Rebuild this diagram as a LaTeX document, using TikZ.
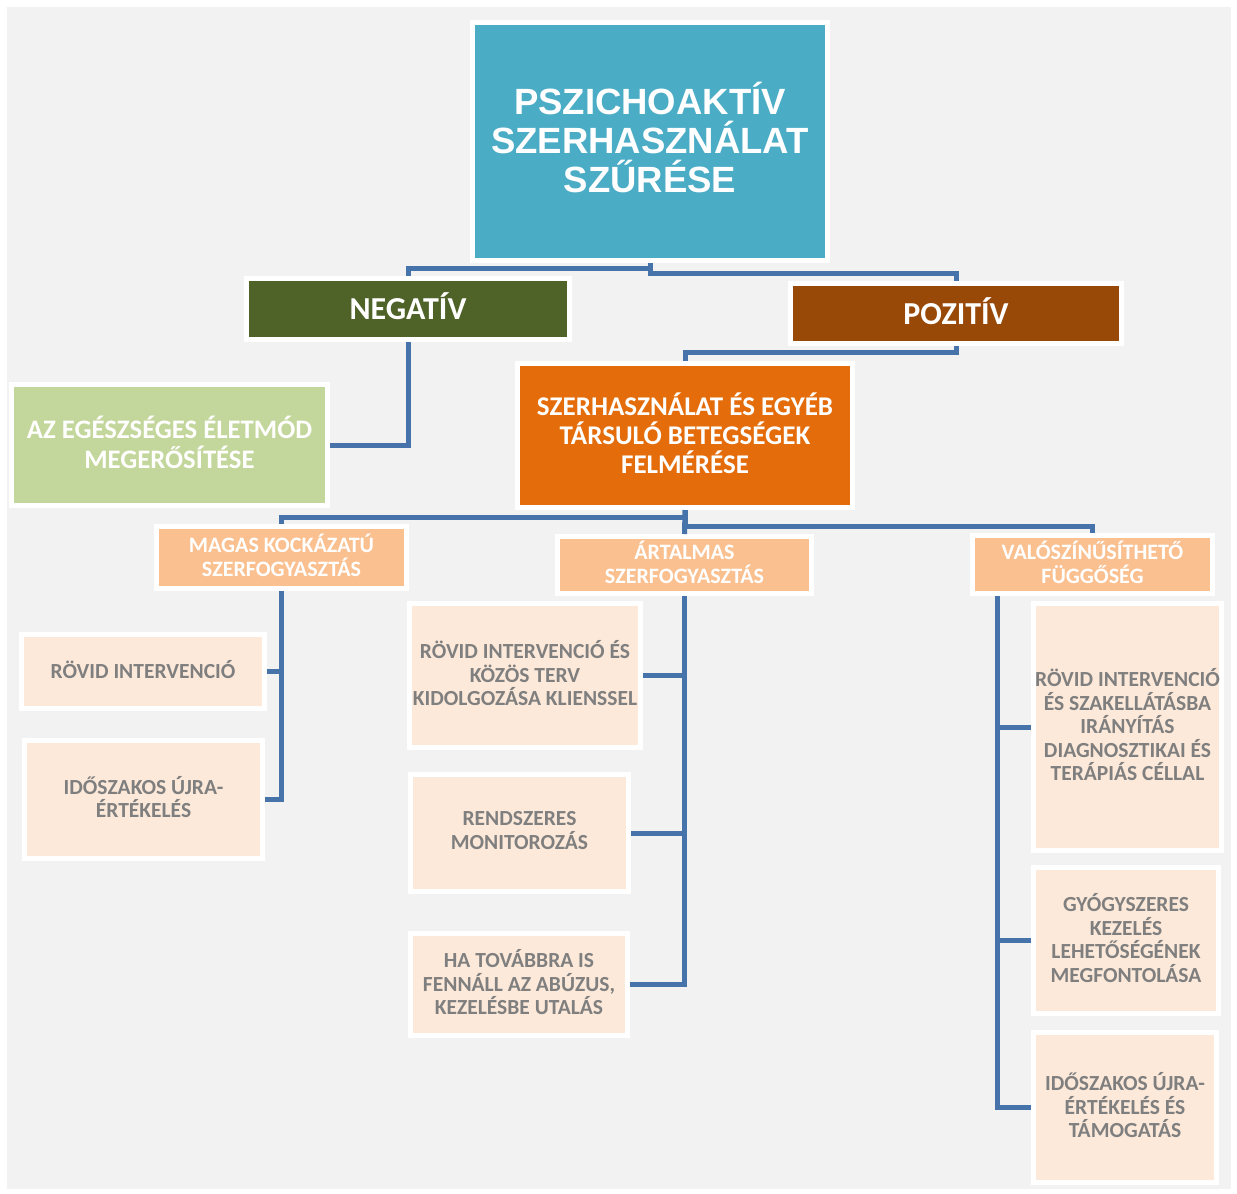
\documentclass[tikz,border=0pt]{standalone}
\usepackage{fontspec}
\setmainfont{Carlito}
\newfontfamily\titlefont{Liberation Sans}
\definecolor{fondo}{HTML}{F2F2F2}
\definecolor{azul}{HTML}{4BACC6}
\definecolor{olivo}{HTML}{4F6228}
\definecolor{marron}{HTML}{984807}
\definecolor{verdeclaro}{HTML}{C3D69B}
\definecolor{naranja}{HTML}{E46C0A}
\definecolor{naranjaclaro}{HTML}{FAC090}
\definecolor{durazno}{HTML}{FDE9D9}
\definecolor{gristexto}{HTML}{7F7F7F}
\definecolor{linea}{HTML}{4673AA}
\begin{document}
\begin{tikzpicture}[x=1pt,y=-1pt,
  caja/.style={draw=white,line width=5pt,outer sep=2.5pt,inner sep=0pt,align=center,text=white,text depth=5pt},
  rama/.style={caja,fill=naranjaclaro,font=\fontsize{22}{24}\selectfont\bfseries},
  hoja/.style={caja,fill=durazno,text=gristexto,font=\fontsize{21.5}{23.5}\selectfont\bfseries},
  conn/.style={draw=linea,line width=5pt}]
\fill[white] (0,0) rectangle (1237,1194);
\fill[fondo] (7,7) rectangle (1231,1189);
% Raiz
\node[caja,fill=azul,minimum width=355pt,minimum height=238pt,text depth=8pt,
  font=\titlefont\fontsize{36.5}{39}\selectfont\bfseries] (cim) at (650,141.5)
  {PSZICHOAKTÍV\\SZERHASZNÁLAT\\SZŰRÉSE};
% Resultado
\node[caja,fill=olivo,minimum width=323pt,minimum height=61pt,
  font=\fontsize{32}{34}\selectfont\bfseries] (negativ) at (408,309) {NEGATÍV};
\node[caja,fill=marron,minimum width=331pt,minimum height=60pt,
  font=\fontsize{32}{34}\selectfont\bfseries] (pozitiv) at (956,313.5) {POZITÍV};
\node[caja,fill=verdeclaro,minimum width=316pt,minimum height=121pt,
  font=\fontsize{26.7}{30}\selectfont\bfseries] (eletmod) at (169.5,445)
  {AZ EGÉSZSÉGES ÉLETMÓD\\MEGERŐSÍTÉSE};
\node[caja,fill=naranja,minimum width=335pt,minimum height=144pt,
  font=\fontsize{27}{29}\selectfont\bfseries] (felmeres) at (685,435.5)
  {SZERHASZNÁLAT ÉS EGYÉB\\TÁRSULÓ BETEGSÉGEK\\FELMÉRÉSE};
% Ramas
\node[rama,minimum width=250pt,minimum height=62pt] (magas) at (281.5,557.5)
  {MAGAS KOCKÁZATÚ\\SZERFOGYASZTÁS};
\node[rama,minimum width=254pt,minimum height=57pt] (artalmas) at (684.5,565)
  {ÁRTALMAS\\SZERFOGYASZTÁS};
\node[rama,minimum width=240pt,minimum height=58pt] (fuggoseg) at (1092.5,564.5)
  {VALÓSZÍNŰSÍTHETŐ\\FÜGGŐSÉG};
% Hojas
\node[hoja,minimum width=243pt,minimum height=74pt] (rovid) at (143,671.5)
  {RÖVID INTERVENCIÓ};
\node[hoja,minimum width=238pt,minimum height=118pt] (ujra) at (143.5,799.5)
  {IDŐSZAKOS ÚJRA-\\ÉRTÉKELÉS};
\node[hoja,minimum width=231pt,minimum height=144pt] (kozos) at (525,675.5)
  {RÖVID INTERVENCIÓ ÉS\\KÖZÖS TERV\\KIDOLGOZÁSA KLIENSSEL};
\node[hoja,minimum width=218pt,minimum height=117pt] (monitor) at (519.5,833)
  {RENDSZERES\\MONITOROZÁS};
\node[hoja,minimum width=217pt,minimum height=102pt] (abuzus) at (519,984.5)
  {HA TOVÁBBRA IS\\FENNÁLL AZ ABÚZUS,\\KEZELÉSBE UTALÁS};
\node[hoja,minimum width=188pt,minimum height=247pt] (szakell) at (1127.5,727)
  {RÖVID INTERVENCIÓ\\ÉS SZAKELLÁTÁSBA\\IRÁNYÍTÁS\\DIAGNOSZTIKAI ÉS\\TERÁPIÁS CÉLLAL};
\node[hoja,minimum width=185pt,minimum height=146pt] (gyogy) at (1126,940.5)
  {GYÓGYSZERES\\KEZELÉS\\LEHETŐSÉGÉNEK\\MEGFONTOLÁSA};
\node[hoja,minimum width=183pt,minimum height=150pt] (tamogat) at (1125,1107.5)
  {IDŐSZAKOS ÚJRA-\\ÉRTÉKELÉS ÉS\\TÁMOGATÁS};
% Conectores
\draw[conn] (cim.south) -- ++(0,5) -| (negativ.north);
\draw[conn] (cim.south) -- ++(0,10) -| (pozitiv.north);
\draw[conn] (negativ.south) |- (eletmod.east);
\draw[conn] (pozitiv.south) -- ++(0,6) -| (felmeres.north);
\draw[conn] (felmeres.south) -- ++(0,7) -| (magas.north);
\draw[conn] (felmeres.south) -- ++(0,16) -| (fuggoseg.north);
\draw[conn] (felmeres.south) -- (artalmas.north);
\foreach \h in {rovid,ujra}
  \draw[conn] (magas.south) |- (\h.east);
\foreach \h in {kozos,monitor,abuzus}
  \draw[conn] (artalmas.south) |- (\h.east);
\foreach \h in {szakell,gyogy,tamogat}
  \draw[conn] ([xshift=27pt]fuggoseg.south west) |- (\h.west);
\end{tikzpicture}
\end{document}
